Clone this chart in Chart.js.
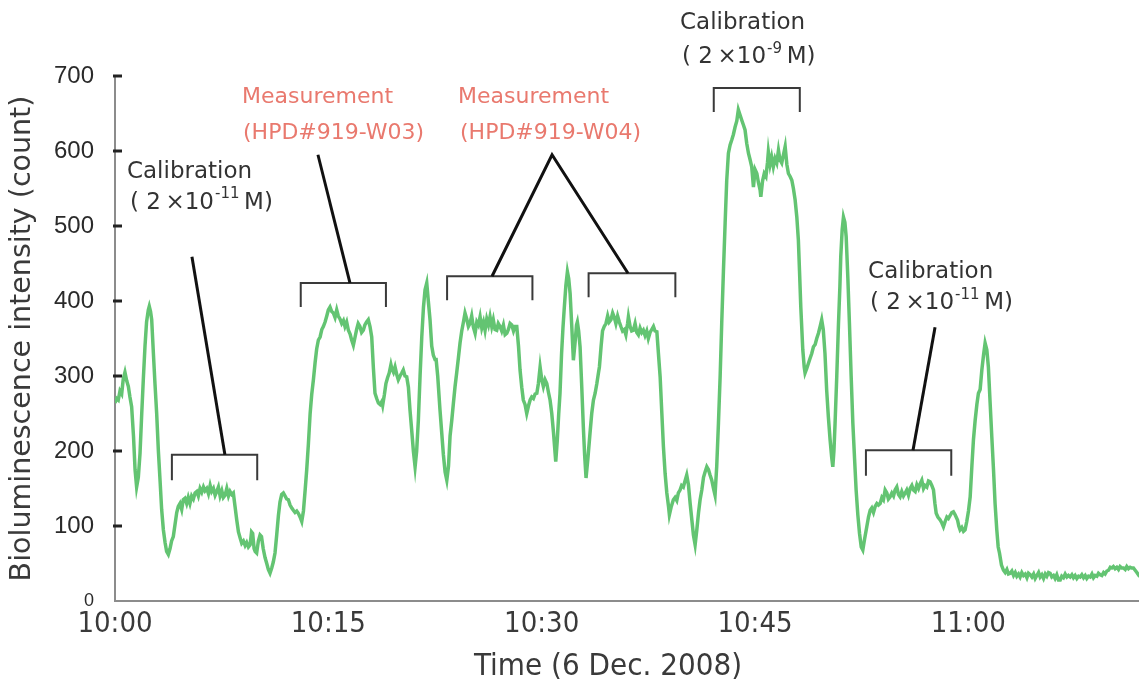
<!DOCTYPE html>
<html>
<head>
<meta charset="utf-8">
<script src="https://cdn.jsdelivr.net/npm/chart.js@4.4.1/dist/chart.umd.min.js"></script>
<style>
  html, body { margin: 0; padding: 0; background: #fff; }
  #wrap { width: 1139px; height: 693px; }
</style>
</head>
<body>
<div id="wrap"><canvas id="chart" width="1139" height="693"></canvas></div>
<script>
// [minutes after 10:00, count]
const series = [
  [0.00, 264], [0.12, 270], [0.23, 268], [0.35, 280], [0.47, 276], [0.58, 296], [0.70, 305], [0.82, 294],
  [0.94, 286], [1.05, 272], [1.17, 259], [1.30, 220], [1.41, 175], [1.52, 152], [1.64, 165], [1.76, 197],
  [1.88, 250], [1.99, 295], [2.11, 340], [2.22, 372], [2.34, 388], [2.41, 393], [2.50, 386], [2.58, 375],
  [2.70, 330], [2.81, 290], [2.93, 250], [3.05, 200], [3.17, 160], [3.28, 122], [3.40, 95], [3.52, 78],
  [3.63, 66], [3.75, 62], [3.87, 70], [3.98, 80], [4.10, 86], [4.22, 102], [4.34, 118], [4.45, 126],
  [4.57, 130], [4.69, 122], [4.80, 135], [4.92, 137], [5.04, 130], [5.15, 138], [5.27, 130], [5.39, 140],
  [5.51, 136], [5.63, 144], [5.75, 146], [5.86, 140], [5.98, 150], [6.10, 145], [6.22, 152], [6.33, 147],
  [6.45, 150], [6.57, 143], [6.69, 154], [6.80, 146], [6.92, 150], [7.04, 141], [7.15, 146], [7.27, 152],
  [7.39, 140], [7.51, 147], [7.62, 138], [7.74, 141], [7.86, 150], [7.98, 140], [8.09, 146], [8.21, 142],
  [8.32, 144], [8.44, 126], [8.56, 108], [8.68, 92], [8.80, 84], [8.91, 77], [9.03, 80], [9.15, 74],
  [9.26, 78], [9.38, 72], [9.50, 75], [9.60, 92], [9.68, 90], [9.78, 70], [9.86, 66], [9.96, 64],
  [10.08, 80], [10.20, 88], [10.30, 86], [10.42, 70], [10.55, 58], [10.67, 50], [10.78, 42], [10.90, 37],
  [11.02, 44], [11.13, 52], [11.25, 64], [11.37, 88], [11.49, 114], [11.60, 132], [11.72, 142], [11.84, 144],
  [11.96, 140], [12.07, 136], [12.19, 135], [12.31, 128], [12.43, 124], [12.54, 121], [12.66, 118], [12.78, 120],
  [12.89, 117], [13.01, 112], [13.13, 106], [13.25, 120], [13.37, 148], [13.48, 175],
  [13.60, 210], [13.72, 250], [13.83, 275], [13.95, 295], [14.07, 318], [14.18, 336], [14.30, 348], [14.42, 352],
  [14.54, 362], [14.65, 366], [14.77, 372], [14.89, 380], [15.00, 388], [15.12, 392], [15.24, 386], [15.35, 384],
  [15.47, 378], [15.59, 388], [15.70, 380], [15.82, 376], [15.94, 370], [16.06, 374], [16.17, 366], [16.29, 372],
  [16.41, 361], [16.53, 356], [16.64, 348], [16.76, 341], [16.88, 352], [16.99, 362], [17.10, 370], [17.22, 366],
  [17.34, 358], [17.46, 361], [17.57, 368], [17.69, 372], [17.81, 375], [17.93, 366], [18.05, 352], [18.17, 310],
  [18.28, 277], [18.40, 270], [18.52, 264], [18.64, 262], [18.76, 266], [18.82, 261], [18.94, 275], [19.05, 290],
  [19.17, 298], [19.28, 304], [19.40, 315], [19.46, 310], [19.58, 305], [19.69, 312], [19.81, 302], [19.92, 295],
  [20.04, 300], [20.16, 304], [20.27, 308], [20.39, 300], [20.51, 299], [20.63, 285], [20.74, 255], [20.86, 228],
  [20.98, 200], [21.10, 179], [21.21, 200], [21.33, 241], [21.45, 300], [21.57, 352], [21.69, 392], [21.80, 415],
  [21.92, 424], [22.03, 400], [22.15, 375], [22.27, 340], [22.38, 328], [22.50, 322], [22.57, 324], [22.69, 300],
  [22.85, 255], [22.97, 225], [23.09, 195], [23.21, 172], [23.33, 161], [23.45, 180], [23.56, 220], [23.68, 241],
  [23.80, 265], [23.91, 286], [24.03, 305], [24.15, 325], [24.26, 344], [24.38, 360], [24.50, 372], [24.61, 384],
  [24.73, 376], [24.85, 366], [24.96, 370], [25.08, 380], [25.20, 365], [25.32, 357], [25.44, 372], [25.55, 368],
  [25.67, 379], [25.79, 364], [25.91, 372], [26.02, 361], [26.14, 376], [26.26, 368], [26.37, 379], [26.49, 366],
  [26.60, 375], [26.72, 362], [26.84, 361], [26.95, 370], [27.07, 366], [27.19, 360], [27.31, 368], [27.43, 355],
  [27.55, 357], [27.66, 362], [27.78, 370], [27.90, 368], [28.02, 360], [28.13, 366], [28.25, 366], [28.37, 340],
  [28.48, 308], [28.60, 285], [28.71, 268], [28.83, 262], [28.95, 250], [29.07, 260], [29.19, 268], [29.30, 272],
  [29.42, 270], [29.54, 276], [29.66, 277], [29.77, 290], [29.89, 312], [30.01, 295], [30.12, 286], [30.24, 295],
  [30.36, 290], [30.48, 278], [30.59, 268], [30.71, 250], [30.83, 225], [30.99, 186], [31.10, 215], [31.20, 250],
  [31.29, 277], [31.40, 330], [31.50, 365], [31.58, 388], [31.70, 420], [31.81, 439], [31.90, 430], [32.00, 410],
  [32.12, 365], [32.23, 321], [32.35, 345], [32.45, 368], [32.51, 372], [32.60, 360], [32.70, 339], [32.82, 285],
  [32.93, 232], [33.02, 195], [33.12, 164], [33.25, 190], [33.40, 224], [33.52, 250], [33.64, 268], [33.76, 277],
  [33.88, 290], [34.00, 305], [34.06, 312], [34.18, 340], [34.28, 360],
  [34.40, 366], [34.52, 370], [34.64, 380], [34.75, 372], [34.87, 375], [34.99, 384], [35.11, 378], [35.22, 370],
  [35.34, 380], [35.46, 372], [35.57, 366], [35.69, 360], [35.81, 362], [35.92, 355], [36.04, 370], [36.10, 379],
  [36.22, 366], [36.33, 360], [36.45, 361], [36.57, 370], [36.69, 358], [36.80, 355], [36.92, 364], [37.04, 358],
  [37.15, 361], [37.27, 354], [37.39, 360], [37.50, 350], [37.62, 358], [37.74, 362], [37.86, 366], [37.97, 360],
  [38.10, 359], [38.21, 330], [38.33, 299], [38.45, 250], [38.56, 206], [38.68, 170], [38.80, 144], [38.92, 126],
  [38.98, 115], [39.10, 125], [39.26, 135], [39.38, 138], [39.50, 134], [39.61, 144], [39.73, 148], [39.84, 154],
  [39.96, 152], [40.08, 160], [40.20, 168], [40.32, 155], [40.44, 130], [40.56, 108], [40.67, 88], [40.79, 75],
  [40.91, 95], [41.03, 118], [41.14, 135], [41.26, 148], [41.38, 165], [41.49, 172], [41.61, 179], [41.73, 175],
  [41.84, 168], [41.96, 161], [42.08, 150], [42.19, 141],
  [42.31, 180], [42.43, 237], [42.55, 300], [42.66, 370], [42.78, 440], [42.90, 504], [43.01, 560], [43.13, 597],
  [43.25, 608], [43.37, 615], [43.48, 622], [43.60, 632], [43.72, 640], [43.83, 655], [43.95, 648], [44.07, 641],
  [44.18, 635], [44.30, 628], [44.42, 610], [44.54, 597], [44.66, 588], [44.77, 579], [44.89, 552], [45.01, 575],
  [45.13, 570], [45.24, 558], [45.36, 548], [45.41, 539], [45.53, 560], [45.65, 570], [45.77, 566], [45.88, 585],
  [45.94, 599], [46.06, 582], [46.17, 592], [46.29, 579], [46.41, 590], [46.53, 584], [46.65, 601], [46.76, 588],
  [46.88, 584], [47.00, 595], [47.12, 606], [47.24, 582], [47.35, 570], [47.47, 566], [47.59, 561], [47.70, 550],
  [47.82, 535], [47.94, 512], [48.05, 481], [48.13, 440], [48.22, 392], [48.36, 335], [48.46, 312], [48.52, 304],
  [48.64, 310], [48.76, 317], [48.88, 324], [48.99, 330], [49.11, 339], [49.23, 342], [49.34, 350], [49.46, 357],
  [49.58, 366], [49.69, 375], [49.80, 362], [49.92, 330], [50.04, 281], [50.16, 245], [50.28, 215], [50.39, 192],
  [50.47, 179], [50.55, 200], [50.63, 237], [50.75, 300], [50.87, 370], [50.97, 420], [51.03, 459], [51.13, 495],
  [51.22, 512], [51.32, 505], [51.41, 486], [51.53, 430], [51.64, 370], [51.76, 300], [51.88, 237], [52.00, 190],
  [52.11, 148], [52.23, 115], [52.35, 90], [52.47, 72], [52.58, 68],
  [52.70, 82], [52.86, 99], [52.98, 112], [53.10, 121], [53.21, 124], [53.33, 118], [53.45, 126], [53.57, 130],
  [53.68, 128], [53.80, 130], [53.92, 138], [54.03, 135], [54.15, 148], [54.27, 144], [54.38, 136], [54.50, 139],
  [54.62, 144], [54.74, 140], [54.85, 148], [54.97, 152], [55.09, 142], [55.20, 139], [55.32, 146], [55.44, 140],
  [55.56, 144], [55.67, 148], [55.79, 141], [55.91, 150], [56.03, 154], [56.14, 148], [56.26, 146], [56.38, 155],
  [56.50, 150], [56.61, 156], [56.73, 161], [56.85, 150], [56.96, 154], [57.08, 152], [57.20, 160], [57.31, 159],
  [57.43, 154], [57.55, 148], [57.65, 130], [57.74, 117], [57.86, 112], [58.02, 108], [58.14, 104], [58.25, 99],
  [58.37, 106], [58.49, 112], [58.60, 110], [58.72, 114], [58.84, 118], [58.95, 119], [59.07, 115], [59.24, 108],
  [59.33, 100], [59.42, 95], [59.54, 98], [59.66, 93], [59.77, 95], [59.89, 106], [60.01, 120], [60.13, 139],
  [60.25, 180], [60.36, 215], [60.48, 241], [60.60, 262], [60.71, 277], [60.83, 282], [60.95, 308], [61.07, 328],
  [61.18, 344], [61.30, 335], [61.41, 312], [61.53, 265], [61.65, 219], [61.77, 175], [61.88, 130], [62.00, 95],
  [62.10, 72], [62.19, 64], [62.33, 48], [62.47, 41], [62.59, 38], [62.71, 42], [62.82, 36], [62.94, 37],
  [63.06, 40], [63.18, 34], [63.30, 38], [63.41, 33], [63.53, 36], [63.64, 32], [63.76, 38], [63.88, 34],
  [64.00, 36], [64.12, 31], [64.23, 37], [64.35, 35], [64.47, 32], [64.59, 36], [64.70, 30], [64.82, 34],
  [64.94, 38], [65.05, 32], [65.17, 35], [65.29, 30], [65.41, 36], [65.52, 33], [65.64, 38], [65.75, 37],
  [65.87, 32], [65.99, 34], [66.10, 30], [66.22, 35], [66.34, 28], [66.46, 28], [66.57, 33], [66.69, 31],
  [66.81, 36], [66.93, 32], [67.04, 34], [67.16, 32], [67.28, 35], [67.39, 31], [67.51, 34], [67.63, 30],
  [67.75, 33], [67.86, 32], [67.98, 35], [68.10, 31], [68.22, 34], [68.33, 30], [68.45, 33], [68.57, 32],
  [68.69, 36], [68.80, 31], [68.92, 34], [69.04, 33], [69.15, 37], [69.27, 35], [69.39, 34], [69.51, 38],
  [69.62, 36], [69.74, 40], [69.86, 41], [69.98, 45], [70.09, 44], [70.20, 46], [70.32, 43], [70.44, 45],
  [70.56, 42], [70.67, 46], [70.79, 44], [70.91, 44], [71.03, 42], [71.14, 46], [71.26, 43], [71.38, 45],
  [71.49, 44], [71.61, 44], [71.73, 41], [71.85, 38], [71.96, 35], [72.00, 36]
];

const xTickMinutes = [0, 15, 30, 45, 60];
const xTickLabels = ['10:00', '10:15', '10:30', '10:45', '11:00'];
const yTicks = [0, 100, 200, 300, 400, 500, 600, 700];
const xTitle = 'Time (6 Dec. 2008)';
const yTitle = 'Bioluminescence intensity (count)';

// brackets over the measured intervals, in minutes / counts
const brackets = [
  { from: 4.0, to: 10.0, top: 195, bottom: 161 },
  { from: 13.06, to: 19.05, top: 424, bottom: 392 },
  { from: 23.35, to: 29.35, top: 433, bottom: 401 },
  { from: 33.3, to: 39.4, top: 437, bottom: 405 },
  { from: 42.1, to: 48.15, top: 684, bottom: 652 },
  { from: 52.8, to: 58.8, top: 201, bottom: 167 }
];

const leaders = [
  [[5.41, 459], [7.73, 195]],
  [[14.27, 595], [16.52, 424]],
  [[26.51, 433], [30.73, 595], [36.07, 437]],
  [[57.66, 365], [56.11, 201]]
];

const black = '#333333';
const red = '#e9796e';
const notes = [
  { x: 0.84, y: 572, text: 'Calibration', color: black },
  { x: 1.05, y: 531, text: '(\u00a02\u2009\u00d710', sup: '-11', tail: '\u2009M)', color: black },
  { x: 8.93, y: 672, text: 'Measurement', color: red, size: 22 },
  { x: 9.0, y: 624, text: '(HPD#919-W03)', color: red, size: 22 },
  { x: 24.12, y: 672, text: 'Measurement', color: red, size: 22 },
  { x: 24.26, y: 624, text: '(HPD#919-W04)', color: red, size: 22 },
  { x: 39.73, y: 771, text: 'Calibration', color: black },
  { x: 39.87, y: 725, text: '(\u00a02\u2009\u00d710', sup: '-9', tail: '\u2009M)', color: black },
  { x: 52.95, y: 439, text: 'Calibration', color: black },
  { x: 53.09, y: 397, text: '(\u00a02\u2009\u00d710', sup: '-11', tail: '\u2009M)', color: black }
];

const noteFont = '"DejaVu Sans", sans-serif';
const narrowFont = '"Liberation Sans Narrow", "DejaVu Sans Condensed", sans-serif';

function drawNote(ctx, n, px, py) {
  const size = n.size || 23;
  ctx.fillStyle = n.color;
  ctx.textAlign = 'left';
  ctx.textBaseline = 'middle';
  ctx.font = size + 'px ' + noteFont;
  ctx.fillText(n.text, px, py);
  if (!n.sup) return;
  let cx = px + ctx.measureText(n.text).width + 1;
  ctx.font = Math.round(size * 0.66) + 'px ' + noteFont;
  ctx.fillText(n.sup, cx, py - size * 0.36);
  cx += ctx.measureText(n.sup).width;
  ctx.font = size + 'px ' + noteFont;
  ctx.fillText(n.tail, cx, py);
}

const annotate = {
  id: 'annotate',
  afterDatasetsDraw(chart) {
    const { ctx, scales: { x, y }, chartArea } = chart;
    ctx.save();

    // inward tick marks on the y axis
    ctx.strokeStyle = '#222';
    ctx.lineWidth = 3;
    yTicks.filter(v => v > 0).forEach(v => {
      const py = y.getPixelForValue(v);
      ctx.beginPath();
      ctx.moveTo(chartArea.left - 2, py);
      ctx.lineTo(chartArea.left + 7, py);
      ctx.stroke();
    });

    ctx.strokeStyle = '#3a3a3a';
    ctx.lineWidth = 2;
    brackets.forEach(b => {
      const l = x.getPixelForValue(b.from), r = x.getPixelForValue(b.to);
      const t = y.getPixelForValue(b.top), bt = y.getPixelForValue(b.bottom);
      ctx.beginPath();
      ctx.moveTo(l, bt); ctx.lineTo(l, t); ctx.lineTo(r, t); ctx.lineTo(r, bt);
      ctx.stroke();
    });

    ctx.strokeStyle = '#111';
    ctx.lineWidth = 3;
    leaders.forEach(pts => {
      ctx.beginPath();
      pts.forEach(([vx, vy], i) => {
        const px = x.getPixelForValue(vx), py = y.getPixelForValue(vy);
        if (i === 0) ctx.moveTo(px, py); else ctx.lineTo(px, py);
      });
      ctx.stroke();
    });

    notes.forEach(n => drawNote(ctx, n, x.getPixelForValue(n.x), y.getPixelForValue(n.y)));

    // axis titles
    ctx.fillStyle = '#3a3a3a';
    ctx.textAlign = 'center';
    ctx.textBaseline = 'middle';
    ctx.font = '31px ' + narrowFont;
    ctx.fillText(xTitle, 608, 667);
    ctx.translate(23, (chartArea.top + chartArea.bottom) / 2);
    ctx.rotate(-Math.PI / 2);
    ctx.font = '28.5px "DejaVu Sans", sans-serif';
    ctx.fillText(yTitle, 0, 0);
    ctx.restore();
  }
};

new Chart(document.getElementById('chart'), {
  type: 'line',
  data: {
    datasets: [{
      data: series.map(([t, v]) => ({ x: t, y: v })),
      borderColor: '#63c472',
      borderWidth: 3.5,
      pointRadius: 0,
      tension: 0
    }]
  },
  options: {
    responsive: false,
    animation: false,
    layout: { padding: { top: 76, right: 0, left: 0, bottom: 0 } },
    plugins: { legend: { display: false }, tooltip: { enabled: false } },
    scales: {
      x: {
        type: 'linear',
        min: 0,
        max: 72,
        afterBuildTicks: s => { s.ticks = xTickMinutes.map(v => ({ value: v })); },
        afterFit: s => { s.height = 92; },
        grid: { display: false, drawTicks: false },
        border: { display: true, color: '#8c8c8c', width: 2 },
        ticks: {
          autoSkip: false,
          maxRotation: 0,
          padding: 6,
          color: '#3a3a3a',
          font: { family: narrowFont, size: 29 },
          callback: v => xTickLabels[xTickMinutes.indexOf(v)]
        }
      },
      y: {
        min: 0,
        max: 700,
        afterBuildTicks: s => { s.ticks = yTicks.map(v => ({ value: v })); },
        afterFit: s => { s.width = 115; },
        grid: { display: false, drawTicks: false },
        border: { display: true, color: '#8c8c8c', width: 2 },
        ticks: {
          padding: 21,
          color: '#2a2a2a',
          font: c => ({ family: '"Liberation Sans", Arial, sans-serif', size: c.tick && c.tick.value === 0 ? 18 : 24 })
        }
      }
    }
  },
  plugins: [annotate]
});
</script>
</body>
</html>
